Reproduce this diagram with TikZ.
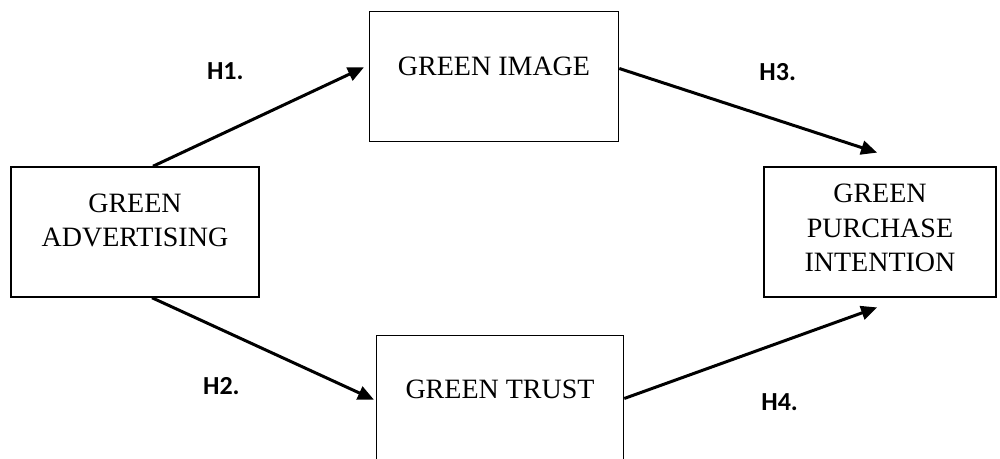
\documentclass[tikz,border=0pt]{standalone}
\usepackage{fontspec}
\setmainfont{Liberation Serif}
\newfontfamily\labelfont{Carlito}
\usetikzlibrary{arrows.meta,positioning}

\begin{document}
\begin{tikzpicture}[->,>={Triangle[length=8pt,width=7pt]},shorten >=1pt,line width=1.5pt,
  x=0.5pt,y=-0.5pt,
  main node/.style={rectangle,draw,line width=0.75pt,inner sep=0pt,align=center,font=\fontsize{14}{17.25}\selectfont},
  hyp/.style={font=\labelfont\bfseries\fontsize{13}{15}\selectfont}]

  \useasboundingbox (0,0) rectangle (1000,459);

  \node[main node,minimum width=124pt,text height=40pt,text depth=25pt] (1) at (135,232) {GREEN\\ADVERTISING};
  \node[main node,minimum width=124.5pt,text height=32pt,text depth=33pt] (2) [above right=12pt and 54.5pt of 1] {GREEN IMAGE};
  \node[main node,minimum width=123.5pt,text height=31.5pt,text depth=33.5pt] (3) [below right=18.5pt and 58pt of 1] {GREEN TRUST};
  \node[main node,minimum width=116pt,text height=52.5pt,text depth=12.5pt] (4) [below right=12pt and 72pt of 2] {GREEN\\PURCHASE\\INTENTION};

  \path
    ([xshift=9pt]1.north) edge node[hyp,pos=.34,yshift=30.5pt] {H1.} ([xshift=-1.5pt,yshift=5pt]2.west)
    ([xshift=8.5pt]1.south) edge node[hyp,pos=.31,yshift=-28pt] {H2.} (3.west)
    ([yshift=4pt]2.east) edge node[hyp,pos=.61,yshift=24pt] {H3.} ([xshift=-.5pt,yshift=6.5pt]4.north)
    ([yshift=1pt]3.east) edge node[hyp,pos=.61,yshift=-30pt] {H4.} ([xshift=-.5pt,yshift=-4.5pt]4.south);
\end{tikzpicture}
\end{document}
